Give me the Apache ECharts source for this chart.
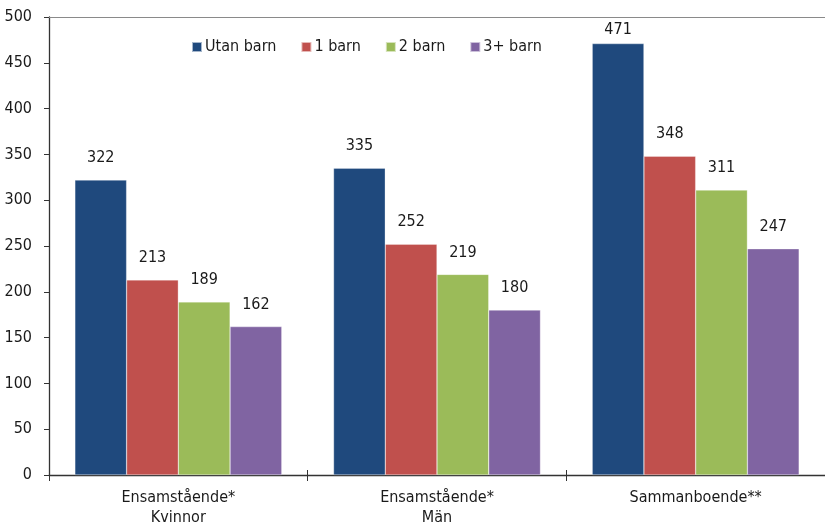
<!DOCTYPE html>
<html><head><meta charset="utf-8">
<script src="https://cdn.jsdelivr.net/npm/echarts@6/dist/echarts.min.js"></script>
<style>html,body{margin:0;padding:0;background:#fff}#c{width:825px;height:528px}</style>
</head><body><div id="c"></div>
<script>
const categories = ['Ensamstående*\nKvinnor', 'Ensamstående*\nMän', 'Sammanboende**'];
const seriesNames = ['Utan barn', '1 barn', '2 barn', '3+ barn'];
const utanBarn = [322, 335, 471];
const ettBarn = [213, 252, 348];
const tvaBarn = [189, 219, 311];
const treBarn = [162, 180, 247];
const yTicks = [0, 50, 100, 150, 200, 250, 300, 350, 400, 450, 500];

const colors = ['#1F497D', '#C0504D', '#9BBB59', '#8064A2'];
const values = [utanBarn, ettBarn, tvaBarn, treBarn];
const FONT = '"DejaVu Sans Condensed", "Liberation Sans Narrow", sans-serif';
const yMax = yTicks[yTicks.length - 1];
const chart = echarts.init(document.getElementById('c'));
chart.setOption({
  animation: false,
  textStyle: { fontFamily: FONT },
  grid: { left: 49, right: -3, top: 17, bottom: 52, show: false },
  legend: {
    left: 186, top: 34, itemWidth: 10, itemHeight: 10, itemGap: 24,
    icon: 'rect',
    textStyle: { fontFamily: FONT, fontSize: 16, color: '#1a1a1a', padding: [0,0,0,-2] },
    data: seriesNames
  },
  xAxis: [{
    type: 'category', data: categories,
    axisLine: { lineStyle: { color: '#333', width: 1.3 } },
    axisTick: { show: true, length: 6, lineStyle: { color: '#333' } },
    axisLabel: { fontFamily: FONT, fontSize: 16, color: '#1a1a1a', margin: 13, lineHeight: 20 },
    splitLine: { show: false }
  }, {
    type: 'category', data: categories, position: 'bottom',
    axisLine: { show: false },
    axisTick: { show: true, inside: true, length: 5, lineStyle: { color: '#333' } },
    axisLabel: { show: false }
  }, {
    type: 'category', data: categories, position: 'top',
    axisLine: { show: true, lineStyle: { color: '#8a8a8a', width: 1 } },
    axisTick: { show: false },
    axisLabel: { show: false }
  }],
  yAxis: {
    type: 'value', min: yTicks[0], max: yMax, interval: 50,
    axisLine: { show: true, lineStyle: { color: '#333', width: 1.3 } },
    axisTick: { show: true, length: 5, lineStyle: { color: '#333' } },
    axisLabel: { fontFamily: FONT, fontSize: 16, color: '#1a1a1a', margin: 17 },
    splitLine: { show: false }
  },
  series: seriesNames.map((n, i) => ({
    name: n, type: 'bar', xAxisIndex: 0,
    data: values[i].map(v => v > 0.9 * yMax ? { value: v, label: { distance: 6 } } : v),
    barGap: '0%', barCategoryGap: '20%',
    itemStyle: { color: colors[i], borderColor: 'rgba(255,255,255,0.6)', borderWidth: 0.5 },
    label: { show: true, position: 'top', distance: 14, fontFamily: FONT, fontSize: 16, color: '#1a1a1a' }
  }))
});
</script></body></html>
